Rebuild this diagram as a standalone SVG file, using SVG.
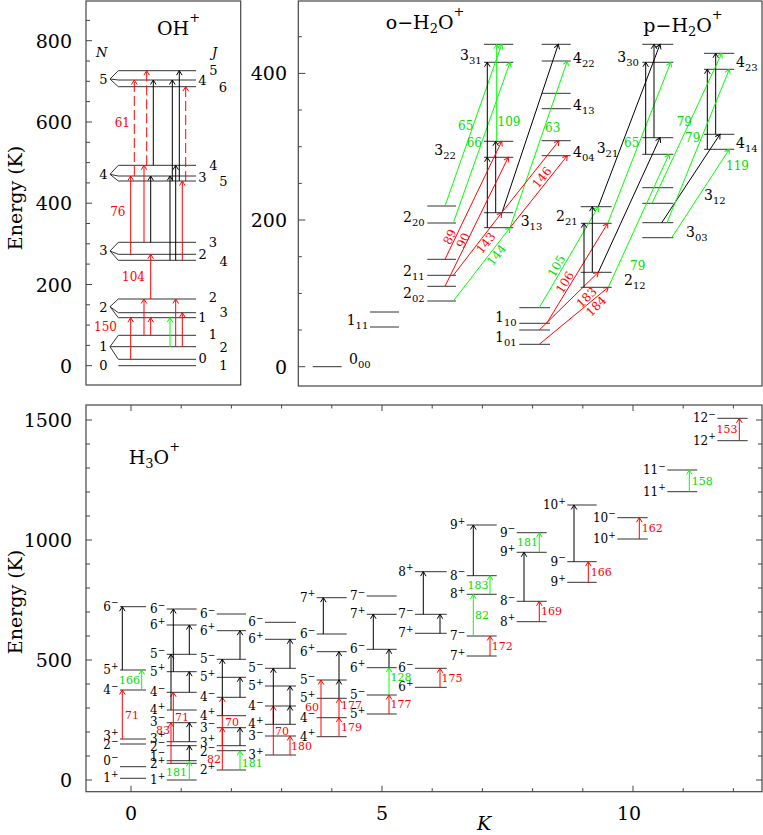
<svg xmlns="http://www.w3.org/2000/svg" width="763" height="835" viewBox="0 0 763 835">
<defs>
<style>
text{font-family:"DejaVu Serif","Liberation Serif",serif;fill:#000}
.ax{font-size:19px}
.ti{font-size:19px}
.lab{font-size:13px}
.h2{font-size:14px}
.h3{font-size:12px}
.tl{font-size:12px}
.t3{font-size:11px}
.red{fill:#f00}
.grn{fill:#0d0}
.it{font-style:italic}
.fr{fill:none;stroke:#444;stroke-width:1.2}
.tk{stroke:#444;stroke-width:1;fill:none}
.lv{stroke:#333;stroke-width:1;fill:none}
.ak{stroke:#000;stroke-width:1;fill:none;marker-end:url(#mk)}
.ar{stroke:#f00;stroke-width:1;fill:none;marker-end:url(#mr)}
.ag{stroke:#0f0;stroke-width:1;fill:none;marker-end:url(#mg)}
.dash{stroke-dasharray:10 4}
</style>
<marker id="mk" viewBox="-6 -4 7 8" refX="0" refY="0" markerWidth="7" markerHeight="8" markerUnits="userSpaceOnUse" orient="auto"><path d="M-4.5,-2.8 L0,0 L-4.5,2.8" fill="none" stroke="#000" stroke-width="1"/></marker>
<marker id="mr" viewBox="-6 -4 7 8" refX="0" refY="0" markerWidth="7" markerHeight="8" markerUnits="userSpaceOnUse" orient="auto"><path d="M-4.5,-2.8 L0,0 L-4.5,2.8" fill="none" stroke="#f00" stroke-width="1"/></marker>
<marker id="mg" viewBox="-6 -4 7 8" refX="0" refY="0" markerWidth="7" markerHeight="8" markerUnits="userSpaceOnUse" orient="auto"><path d="M-4.5,-2.8 L0,0 L-4.5,2.8" fill="none" stroke="#0f0" stroke-width="1"/></marker>
</defs>

<!-- ===== OH+ panel ===== -->
<g id="oh-panel">
<rect class="fr" x="86" y="1" width="154.7" height="384"/>
<path class="tk" d="M86 365.7h6M86 345.4h4M86 325.1h4M86 304.8h4M86 284.5h6M86 264.1h4M86 243.8h4M86 223.5h4M86 203.2h6M86 182.9h4M86 162.6h4M86 142.3h4M86 122h6M86 101.6h4M86 81.3h4M86 61h4M86 40.7h6M86 20.4h4"/>
<text class="ax" x="72" y="47.7" text-anchor="end">800</text>
<text class="ax" x="72" y="129" text-anchor="end">600</text>
<text class="ax" x="72" y="210" text-anchor="end">400</text>
<text class="ax" x="72" y="291.5" text-anchor="end">200</text>
<text class="ax" x="72" y="372.7" text-anchor="end">0</text>
<text class="ax" transform="translate(22,198) rotate(-90)" text-anchor="middle" font-size="20">Energy (K)</text>
<text class="ti" x="157" y="35">OH<tspan font-size="13" dy="-13">+</tspan></text>
<text class="lab it" x="96" y="57" font-size="17">N</text>
<text class="lab it" x="212" y="57" font-size="17">J</text>
</g>

<g id="oh-N5">
<path class="lv" d="M110 79L118.3 70.7H196M110 79L118.3 80H196M110 79L118.3 86.7H196"/>
<text class="lab" x="107.5" y="83.5" text-anchor="end">5</text>
<text class="lab" x="213.3" y="75" text-anchor="middle">5</text>
<text class="lab" x="202.3" y="85" text-anchor="middle">4</text>
<text class="lab" x="223" y="91.7" text-anchor="middle">6</text>
</g>
<g id="oh-N4">
<path class="lv" d="M110 174.3L118.3 165.3H196M110 174.3L118.3 176H196M110 174.3L118.3 181H196"/>
<text class="lab" x="107.5" y="179" text-anchor="end">4</text>
<text class="lab" x="213.3" y="170" text-anchor="middle">4</text>
<text class="lab" x="202.3" y="181.7" text-anchor="middle">3</text>
<text class="lab" x="223.3" y="186" text-anchor="middle">5</text>
</g>
<g id="oh-N3">
<path class="lv" d="M110 251L118.3 242.3H196M110 251L118.3 254.3H196M110 251L118.3 260.3H196"/>
<text class="lab" x="107.5" y="255" text-anchor="end">3</text>
<text class="lab" x="213" y="246.7" text-anchor="middle">3</text>
<text class="lab" x="202.7" y="259" text-anchor="middle">2</text>
<text class="lab" x="223.7" y="266" text-anchor="middle">4</text>
</g>
<g id="oh-N2">
<path class="lv" d="M110 306.7L118.3 299H196M110 306.7L118.3 312.7H196M110 306.7L118.3 317.7H196"/>
<text class="lab" x="107.5" y="311.7" text-anchor="end">2</text>
<text class="lab" x="213" y="302.3" text-anchor="middle">2</text>
<text class="lab" x="223.7" y="316.7" text-anchor="middle">3</text>
<text class="lab" x="202.5" y="322.3" text-anchor="middle">1</text>
</g>
<g id="oh-N1">
<path class="lv" d="M110 346.7L118.3 335.3H196M110 346.7H196M110 346.7L118.3 359.3H196"/>
<text class="lab" x="107.5" y="351" text-anchor="end">1</text>
<text class="lab" x="213" y="339" text-anchor="middle">1</text>
<text class="lab" x="223.7" y="351.7" text-anchor="middle">2</text>
<text class="lab" x="202.7" y="363.3" text-anchor="middle">0</text>
</g>
<g id="oh-N0">
<path class="lv" d="M118.3 365.7H196"/>
<text class="lab" x="107.5" y="370" text-anchor="end">0</text>
<text class="lab" x="223.3" y="370" text-anchor="middle">1</text>
</g>

<g id="oh-transitions">
<path class="ar dash" d="M134.3 176V80"/>
<path class="ar dash" d="M146.7 165.3V70.7"/>
<path class="ak" d="M153.3 165.3V80"/>
<path class="ak" d="M172.3 181V80"/>
<path class="ak" d="M179.3 181V70.7"/>
<path class="ar dash" d="M185.7 181V86.7"/>
<path class="ar" d="M130.7 254.3V176"/>
<path class="ar" d="M144 242.3V165.3"/>
<path class="ak" d="M150.7 242.3V176"/>
<path class="ak" d="M170 260.3V176"/>
<path class="ak" d="M175.7 260.3V165.3"/>
<path class="ar" d="M182.3 260.3V181"/>
<path class="ar" d="M150.7 299V254.3"/>
<path class="ar" d="M130.7 359.3V317.7"/>
<path class="ar" d="M144 335.3V299"/>
<path class="ar" d="M150.7 335.3V317.7"/>
<path class="ag" d="M170 346.7V317.7"/>
<path class="ar" d="M175.7 346.7V299"/>
<path class="ar" d="M182.3 346.7V312.7"/>
<text class="tl red" x="130" y="126.5" text-anchor="end">61</text>
<text class="tl red" x="125.5" y="216" text-anchor="end">76</text>
<text class="tl red" x="145" y="281" text-anchor="end">104</text>
<text class="tl red" x="117" y="331" text-anchor="end">150</text>
</g>

<!-- ===== H2O+ panel ===== -->
<g id="h2o-panel">
<rect class="fr" x="298.3" y="1" width="463.7" height="385"/>
<path class="tk" d="M298.3 366.7h7M298.3 330h3.5M298.3 293.4h3.5M298.3 256.7h3.5M298.3 220h7M298.3 183.4h3.5M298.3 146.7h3.5M298.3 110h3.5M298.3 73.4h7M298.3 36.7h3.5"/>
<text class="ax" x="287" y="80.4" text-anchor="end">400</text>
<text class="ax" x="287" y="227" text-anchor="end">200</text>
<text class="ax" x="287" y="373.7" text-anchor="end">0</text>
<text class="ti" x="385.7" y="28.5">o−H<tspan font-size="13" dy="4">2</tspan><tspan dy="-4">O</tspan><tspan font-size="13" dy="-13">+</tspan></text>
<text class="ti" x="643.3" y="32">p−H<tspan font-size="13" dy="4">2</tspan><tspan dy="-4">O</tspan><tspan font-size="13" dy="-13">+</tspan></text>
</g>

<g id="h2o-000"><path class="lv" d="M312.7 366.7H341.7"/><text class="h2" x="349" y="363.5">0<tspan font-size="10" dy="4">00</tspan></text></g>
<g id="h2o-111"><path class="lv" d="M370 312H399M370 327H399"/><text class="h2" x="346.7" y="325">1<tspan font-size="10" dy="4">11</tspan></text></g>
<g id="h2o-220"><path class="lv" d="M427.3 206H456M427.3 223H456"/><text class="h2" x="403" y="221.7">2<tspan font-size="10" dy="4">20</tspan></text></g>
<g id="h2o-211"><path class="lv" d="M427.3 259.3H456M427.3 275.3H456"/><text class="h2" x="403" y="276">2<tspan font-size="10" dy="4">11</tspan></text></g>
<g id="h2o-202"><path class="lv" d="M427.3 286.3H456M427.3 301H456"/><text class="h2" x="403" y="297.5">2<tspan font-size="10" dy="4">02</tspan></text></g>
<g id="h2o-331"><path class="lv" d="M484 44.3H513.3M484 62.3H513.3"/><text class="h2" x="460" y="60">3<tspan font-size="10" dy="4">31</tspan></text></g>
<g id="h2o-322"><path class="lv" d="M484 141.3H513.3M484 157.3H513.3"/><text class="h2" x="434.3" y="155">3<tspan font-size="10" dy="4">22</tspan></text></g>
<g id="h2o-313"><path class="lv" d="M484 212.7H513.3M484 227.7H513.3"/><text class="h2" x="520.7" y="226">3<tspan font-size="10" dy="4">13</tspan></text></g>
<g id="h2o-422"><path class="lv" d="M541.7 44.3H570.7M541.7 61H570.7"/><text class="h2" x="573" y="63">4<tspan font-size="10" dy="4">22</tspan></text></g>
<g id="h2o-413"><path class="lv" d="M541.7 93.3H570.7M541.7 108.7H570.7"/><text class="h2" x="573" y="110">4<tspan font-size="10" dy="4">13</tspan></text></g>
<g id="h2o-404"><path class="lv" d="M541.7 140.7H570.7M541.7 155.7H570.7"/><text class="h2" x="573" y="156.7">4<tspan font-size="10" dy="4">04</tspan></text></g>
<g id="h2o-110"><path class="lv" d="M519.3 307.7H550M519.3 323.3H550"/><text class="h2" x="495" y="321.7">1<tspan font-size="10" dy="4">10</tspan></text></g>
<g id="h2o-101"><path class="lv" d="M519.3 330H550M519.3 344.3H550"/><text class="h2" x="495" y="341.7">1<tspan font-size="10" dy="4">01</tspan></text></g>
<g id="h2o-221"><path class="lv" d="M580.7 206.7H611.7M580.7 223.3H611.7"/><text class="h2" x="556" y="220.7">2<tspan font-size="10" dy="4">21</tspan></text></g>
<g id="h2o-212"><path class="lv" d="M580.7 272.3H611.7M580.7 287.3H611.7"/><text class="h2" x="624" y="285">2<tspan font-size="10" dy="4">12</tspan></text></g>
<g id="h2o-330"><path class="lv" d="M642.3 44.3H673.3M642.3 62.3H673.3"/><text class="h2" x="617.3" y="61.7">3<tspan font-size="10" dy="4">30</tspan></text></g>
<g id="h2o-321"><path class="lv" d="M642.3 137.7H673.3M642.3 154.3H673.3"/><text class="h2" x="596.7" y="152.7">3<tspan font-size="10" dy="4">21</tspan></text></g>
<g id="h2o-312"><path class="lv" d="M642.3 187.7H673.3M642.3 203.3H673.3"/><text class="h2" x="704" y="200">3<tspan font-size="10" dy="4">12</tspan></text></g>
<g id="h2o-303"><path class="lv" d="M642.3 222.7H673.3M642.3 237.7H673.3"/><text class="h2" x="686" y="236.7">3<tspan font-size="10" dy="4">03</tspan></text></g>
<g id="h2o-423"><path class="lv" d="M704 53.3H734.3M704 69.3H734.3"/><text class="h2" x="736" y="66.7">4<tspan font-size="10" dy="4">23</tspan></text></g>
<g id="h2o-414"><path class="lv" d="M704 134.3H734.3M704 149.3H734.3"/><text class="h2" x="736" y="148">4<tspan font-size="10" dy="4">14</tspan></text></g>

<g id="h2o-transitions">
<path class="ag" d="M445 206L501.7 44.3"/>
<path class="ag" d="M453.3 223L510 62.3"/>
<path class="ag" d="M496.7 141.3V44.3"/>
<path class="ak" d="M487.3 157.3V62.3"/>
<path class="ak" d="M487.3 227.7V157.3"/>
<path class="ak" d="M495.7 212.7V141.3"/>
<path class="ar" d="M445 259.3L501.7 141.3"/>
<path class="ar" d="M445 286.3L508.3 157.3"/>
<path class="ar" d="M453.3 275.3L501.7 212.7"/>
<path class="ag" d="M453.3 301L510 227.7"/>
<path class="ag" d="M510 227.7L567.3 61"/>
<path class="ak" d="M502 212.7L558.3 44.3"/>
<path class="ar" d="M501.7 212.7L559 140.7"/>
<path class="ar" d="M510 227.7L567.3 155.7"/>
<path class="ag" d="M539.3 307.7L598.3 206.7"/>
<path class="ar" d="M546.7 323.3L607.7 223.3"/>
<path class="ar" d="M539.3 330L598.3 272.3"/>
<path class="ar" d="M539.3 344.3L608.3 287.3"/>
<path class="ak" d="M584 287.3V223.3"/>
<path class="ak" d="M592.3 272.3V206.7"/>
<path class="ak" d="M598.3 206.7L660 44.3"/>
<path class="ak" d="M598.3 272.3L660 137.7"/>
<path class="ag" d="M607.7 223.3L670.7 62.3"/>
<path class="ag" d="M608.3 287.3L669 154.3"/>
<path class="ak" d="M645.7 154.3V62.3"/>
<path class="ak" d="M654 137.7V44.3"/>
<path class="ak" d="M707.3 149.3V69.3"/>
<path class="ak" d="M715.7 134.3V53.3"/>
<path class="ak" d="M661.7 222.7L720 134.3"/>
<path class="ag" d="M652 203.3L721.7 53.3"/>
<path class="ag" d="M667 222.7L729.3 69.3"/>
<path class="ag" d="M671.7 237.7L729.3 149.3"/>
<text class="tl grn" x="458" y="130">65</text>
<text class="tl grn" x="466.7" y="146.5">66</text>
<text class="tl grn" x="497.5" y="126">109</text>
<text class="tl grn" x="545" y="132">63</text>
<text class="tl grn" x="676.7" y="126">79</text>
<text class="tl grn" x="685" y="141.7">79</text>
<text class="tl grn" x="624" y="146.7">65</text>
<text class="tl grn" x="726" y="170">119</text>
<text class="tl grn" x="630" y="270">79</text>
<text class="tl red" x="0" y="4" text-anchor="middle" transform="translate(450,237) rotate(-64)">89</text>
<text class="tl red" x="0" y="4" text-anchor="middle" transform="translate(463.3,240.5) rotate(-64)">90</text>
<text class="tl red" x="0" y="4" text-anchor="middle" transform="translate(486,243) rotate(-52)">143</text>
<text class="tl grn" x="0" y="4" text-anchor="middle" transform="translate(496.7,255) rotate(-52)">144</text>
<text class="tl red" x="0" y="4" text-anchor="middle" transform="translate(542,177.5) rotate(-51)">146</text>
<text class="tl grn" x="0" y="4" text-anchor="middle" transform="translate(556.7,266) rotate(-60)">105</text>
<text class="tl red" x="0" y="4" text-anchor="middle" transform="translate(565,282.5) rotate(-58.6)">106</text>
<text class="tl red" x="0" y="4" text-anchor="middle" transform="translate(586.7,297.5) rotate(-45)">183</text>
<text class="tl red" x="0" y="4" text-anchor="middle" transform="translate(596.3,306.3) rotate(-45)">184</text>
</g>

<!-- ===== H3O+ panel ===== -->
<g id="h3o-panel">
<rect class="fr" x="86" y="405" width="676" height="386.7"/>
<path class="tk" d="M86 780h6M86 756h4M86 732h4M86 708h4M86 684h4M86 660h6M86 636h4M86 612h4M86 588h4M86 564h4M86 540h6M86 516h4M86 492h4M86 468h4M86 444h4M86 420h6M762 780h-6M762 756h-4M762 732h-4M762 708h-4M762 684h-4M762 660h-6M762 636h-4M762 612h-4M762 588h-4M762 564h-4M762 540h-6M762 516h-4M762 492h-4M762 468h-4M762 444h-4M762 420h-6M131 791.7v-6M181.2 791.7v-3.5M231.4 791.7v-3.5M281.6 791.7v-3.5M331.8 791.7v-3.5M382 791.7v-6M432.2 791.7v-3.5M482.4 791.7v-3.5M532.6 791.7v-3.5M582.8 791.7v-3.5M633 791.7v-6M683.2 791.7v-3.5M733.4 791.7v-3.5M131 405v6M181.2 405v3.5M231.4 405v3.5M281.6 405v3.5M331.8 405v3.5M382 405v6M432.2 405v3.5M482.4 405v3.5M532.6 405v3.5M582.8 405v3.5M633 405v6M683.2 405v3.5M733.4 405v3.5"/>
<text class="ax" x="72" y="427" text-anchor="end">1500</text>
<text class="ax" x="72" y="547" text-anchor="end">1000</text>
<text class="ax" x="72" y="667" text-anchor="end">500</text>
<text class="ax" x="72" y="787" text-anchor="end">0</text>
<text class="ax" x="131" y="820" text-anchor="middle">0</text>
<text class="ax" x="382" y="820" text-anchor="middle">5</text>
<text class="ax" x="629" y="820" text-anchor="middle">10</text>
<text class="ax it" x="484" y="830" text-anchor="middle" font-size="18">K</text>
<text class="ax" transform="translate(22,602) rotate(-90)" text-anchor="middle" font-size="20">Energy (K)</text>
<text class="ti" x="128.7" y="464">H<tspan font-size="13" dy="4">3</tspan><tspan dy="-4">O</tspan><tspan font-size="13" dy="-13">+</tspan></text>
</g>

<g id="h3o-K0">
<path class="lv" d="M120 606.7H146M120 670H146M120 690H146M120 739H146M120 744H146M120 766.7H146M120 778.3H146"/>
<g class="h3" text-anchor="end">
<text x="118.5" y="610.7">6<tspan font-size="9" dy="-5.5">−</tspan></text>
<text x="118.5" y="674">5<tspan font-size="9" dy="-5.5">+</tspan></text>
<text x="118.5" y="694">4<tspan font-size="9" dy="-5.5">−</tspan></text>
<text x="118.5" y="740">3<tspan font-size="9" dy="-5.5">+</tspan></text>
<text x="118.5" y="749">2<tspan font-size="9" dy="-5.5">−</tspan></text>
<text x="118.5" y="765">0<tspan font-size="9" dy="-5.5">−</tspan></text>
<text x="118.5" y="782.3">1<tspan font-size="9" dy="-5.5">+</tspan></text>
</g>
</g>
<g id="h3o-K1">
<path class="lv" d="M166.7 609H196.7M166.7 625H196.7M166.7 654.3H196.7M166.7 671.7H196.7M166.7 692.3H196.7M166.7 710H196.7M166.7 722.7H196.7M166.7 741.7H196.7M166.7 745.7H196.7M166.7 760.7H196.7M166.7 763.3H196.7M166.7 780H196.7"/>
<g class="h3" text-anchor="end">
<text x="165.2" y="613">6<tspan font-size="9" dy="-5.5">−</tspan></text>
<text x="165.2" y="629">6<tspan font-size="9" dy="-5.5">+</tspan></text>
<text x="165.2" y="658.3">5<tspan font-size="9" dy="-5.5">−</tspan></text>
<text x="165.2" y="675.7">5<tspan font-size="9" dy="-5.5">+</tspan></text>
<text x="165.2" y="696.3">4<tspan font-size="9" dy="-5.5">−</tspan></text>
<text x="165.2" y="714">4<tspan font-size="9" dy="-5.5">+</tspan></text>
<text x="165.2" y="725.7">3<tspan font-size="9" dy="-5.5">−</tspan></text>
<text x="165.2" y="742.7">3<tspan font-size="9" dy="-5.5">+</tspan></text>
<text x="165.2" y="750.7">2<tspan font-size="9" dy="-5.5">−</tspan></text>
<text x="165.2" y="760.7">1<tspan font-size="9" dy="-5.5">−</tspan></text>
<text x="165.2" y="768.3">2<tspan font-size="9" dy="-5.5">+</tspan></text>
<text x="165.2" y="784">1<tspan font-size="9" dy="-5.5">+</tspan></text>
</g>
</g>
<g id="h3o-K2">
<path class="lv" d="M216.7 614H246M216.7 630.7H246M216.7 659.3H246M216.7 677.3H246M216.7 697.3H246M216.7 715.7H246M216.7 727.7H246M216.7 745.7H246M216.7 750.7H246M216.7 770H246"/>
<g class="h3" text-anchor="end">
<text x="215.2" y="618">6<tspan font-size="9" dy="-5.5">−</tspan></text>
<text x="215.2" y="634.7">6<tspan font-size="9" dy="-5.5">+</tspan></text>
<text x="215.2" y="663.3">5<tspan font-size="9" dy="-5.5">−</tspan></text>
<text x="215.2" y="681.3">5<tspan font-size="9" dy="-5.5">+</tspan></text>
<text x="215.2" y="701.3">4<tspan font-size="9" dy="-5.5">−</tspan></text>
<text x="215.2" y="719.7">4<tspan font-size="9" dy="-5.5">+</tspan></text>
<text x="215.2" y="731.7">3<tspan font-size="9" dy="-5.5">−</tspan></text>
<text x="215.2" y="746.7">3<tspan font-size="9" dy="-5.5">+</tspan></text>
<text x="215.2" y="755.7">2<tspan font-size="9" dy="-5.5">−</tspan></text>
<text x="215.2" y="774">2<tspan font-size="9" dy="-5.5">+</tspan></text>
</g>
</g>
<g id="h3o-K3">
<path class="lv" d="M265 622.3H296M265 639.3H296M265 668.3H296M265 686H296M265 706H296M265 724.3H296M265 736H296M265 755H296"/>
<g class="h3" text-anchor="end">
<text x="263.5" y="626.3">6<tspan font-size="9" dy="-5.5">−</tspan></text>
<text x="263.5" y="643.3">6<tspan font-size="9" dy="-5.5">+</tspan></text>
<text x="263.5" y="672.3">5<tspan font-size="9" dy="-5.5">−</tspan></text>
<text x="263.5" y="690">5<tspan font-size="9" dy="-5.5">+</tspan></text>
<text x="263.5" y="710">4<tspan font-size="9" dy="-5.5">−</tspan></text>
<text x="263.5" y="728.3">4<tspan font-size="9" dy="-5.5">+</tspan></text>
<text x="263.5" y="740">3<tspan font-size="9" dy="-5.5">−</tspan></text>
<text x="263.5" y="759">3<tspan font-size="9" dy="-5.5">+</tspan></text>
</g>
</g>
<g id="h3o-K4">
<path class="lv" d="M316.7 597.7H346.7M316.7 634H346.7M316.7 651.7H346.7M316.7 680H346.7M316.7 698.3H346.7M316.7 717.7H346.7M316.7 736.7H346.7"/>
<g class="h3" text-anchor="end">
<text x="315.2" y="601.7">7<tspan font-size="9" dy="-5.5">+</tspan></text>
<text x="315.2" y="638">6<tspan font-size="9" dy="-5.5">−</tspan></text>
<text x="315.2" y="655.7">6<tspan font-size="9" dy="-5.5">+</tspan></text>
<text x="315.2" y="684">5<tspan font-size="9" dy="-5.5">−</tspan></text>
<text x="315.2" y="702.3">5<tspan font-size="9" dy="-5.5">+</tspan></text>
<text x="315.2" y="721.7">4<tspan font-size="9" dy="-5.5">−</tspan></text>
<text x="315.2" y="740.7">4<tspan font-size="9" dy="-5.5">+</tspan></text>
</g>
</g>
<g id="h3o-K5">
<path class="lv" d="M366.7 596H396.7M366.7 614.3H396.7M366.7 649.3H396.7M366.7 667.7H396.7M366.7 695H396.7M366.7 714H396.7"/>
<g class="h3" text-anchor="end">
<text x="365.2" y="600">7<tspan font-size="9" dy="-5.5">−</tspan></text>
<text x="365.2" y="618.3">7<tspan font-size="9" dy="-5.5">+</tspan></text>
<text x="365.2" y="653.3">6<tspan font-size="9" dy="-5.5">−</tspan></text>
<text x="365.2" y="671.7">6<tspan font-size="9" dy="-5.5">+</tspan></text>
<text x="365.2" y="699">5<tspan font-size="9" dy="-5.5">−</tspan></text>
<text x="365.2" y="718">5<tspan font-size="9" dy="-5.5">+</tspan></text>
</g>
</g>
<g id="h3o-K6">
<path class="lv" d="M415 571.7H446.7M415 614.3H446.7M415 633.3H446.7M415 668.3H446.7M415 687.3H446.7"/>
<g class="h3" text-anchor="end">
<text x="413.5" y="575.7">8<tspan font-size="9" dy="-5.5">+</tspan></text>
<text x="413.5" y="618.3">7<tspan font-size="9" dy="-5.5">−</tspan></text>
<text x="413.5" y="637.3">7<tspan font-size="9" dy="-5.5">+</tspan></text>
<text x="413.5" y="672.3">6<tspan font-size="9" dy="-5.5">−</tspan></text>
<text x="413.5" y="691.3">6<tspan font-size="9" dy="-5.5">+</tspan></text>
</g>
</g>
<g id="h3o-K7">
<path class="lv" d="M466.7 525H496.7M466.7 575.7H496.7M466.7 594.3H496.7M466.7 636H496.7M466.7 656H496.7"/>
<g class="h3" text-anchor="end">
<text x="465.2" y="529">9<tspan font-size="9" dy="-5.5">+</tspan></text>
<text x="465.2" y="579.7">8<tspan font-size="9" dy="-5.5">−</tspan></text>
<text x="465.2" y="598.3">8<tspan font-size="9" dy="-5.5">+</tspan></text>
<text x="465.2" y="640">7<tspan font-size="9" dy="-5.5">−</tspan></text>
<text x="465.2" y="660">7<tspan font-size="9" dy="-5.5">+</tspan></text>
</g>
</g>
<g id="h3o-K8">
<path class="lv" d="M516.7 532.7H546.7M516.7 552.3H546.7M516.7 601.3H546.7M516.7 621.7H546.7"/>
<g class="h3" text-anchor="end">
<text x="515.2" y="536.7">9<tspan font-size="9" dy="-5.5">−</tspan></text>
<text x="515.2" y="556.3">9<tspan font-size="9" dy="-5.5">+</tspan></text>
<text x="515.2" y="605.3">8<tspan font-size="9" dy="-5.5">−</tspan></text>
<text x="515.2" y="625.7">8<tspan font-size="9" dy="-5.5">+</tspan></text>
</g>
</g>
<g id="h3o-K9">
<path class="lv" d="M567.3 505H596.7M567.3 561.7H596.7M567.3 582.3H596.7"/>
<g class="h3" text-anchor="end">
<text x="565.8" y="509">10<tspan font-size="9" dy="-5.5">+</tspan></text>
<text x="565.8" y="565.7">9<tspan font-size="9" dy="-5.5">−</tspan></text>
<text x="565.8" y="586.3">9<tspan font-size="9" dy="-5.5">+</tspan></text>
</g>
</g>
<g id="h3o-K10">
<path class="lv" d="M617.3 517.7H647.7M617.3 539H647.7"/>
<g class="h3" text-anchor="end">
<text x="615.8" y="521.7">10<tspan font-size="9" dy="-5.5">−</tspan></text>
<text x="615.8" y="543">10<tspan font-size="9" dy="-5.5">+</tspan></text>
</g>
</g>
<g id="h3o-K11">
<path class="lv" d="M667.3 470H697.3M667.3 491.7H697.3"/>
<g class="h3" text-anchor="end">
<text x="665.8" y="474">11<tspan font-size="9" dy="-5.5">−</tspan></text>
<text x="665.8" y="495.7">11<tspan font-size="9" dy="-5.5">+</tspan></text>
</g>
</g>
<g id="h3o-K12">
<path class="lv" d="M717.3 418.3H747.7M717.3 440.7H747.7"/>
<g class="h3" text-anchor="end">
<text x="715.8" y="422.3">12<tspan font-size="9" dy="-5.5">−</tspan></text>
<text x="715.8" y="444.7">12<tspan font-size="9" dy="-5.5">+</tspan></text>
</g>
</g>

<g id="h3o-transitions">
<path class="ak" d="M122.3 670V606.7"/>
<path class="ar" d="M122.3 739V690"/>
<path class="ag" d="M141.7 690V670"/>
<path class="ar" d="M171 763.3V722.7"/>
<path class="ar" d="M173.3 741.7V692.3"/>
<path class="ak" d="M171 710V654.3"/>
<path class="ak" d="M173.3 671.7V609"/>
<path class="ag" d="M189.3 780V761.7"/>
<path class="ak" d="M189.3 760.7V745.7"/>
<path class="ak" d="M189.3 741.7V722.7"/>
<path class="ak" d="M189.3 692.3V671.7"/>
<path class="ak" d="M189.3 654.3V625"/>
<path class="ar" d="M222.3 770V727.7"/>
<path class="ar" d="M222.3 745.7V697.3"/>
<path class="ak" d="M222.3 715.7V659.3"/>
<path class="ak" d="M240 659.3V630.7"/>
<path class="ak" d="M240 697.3V677.3"/>
<path class="ak" d="M240 745.7V727.7"/>
<path class="ag" d="M240 770V750.7"/>
<path class="ar" d="M273.3 755V706"/>
<path class="ak" d="M273.3 724.3V668.3"/>
<path class="ar" d="M290 755V736"/>
<path class="ak" d="M290 724.3V706"/>
<path class="ak" d="M290 706V686"/>
<path class="ak" d="M290 668.3V639.3"/>
<path class="ar" d="M321 736.7V680"/>
<path class="ak" d="M323.3 634V597.7"/>
<path class="ak" d="M339 680V651.7"/>
<path class="ak" d="M339 698.3V680"/>
<path class="ar" d="M339 717.7V698.3"/>
<path class="ar" d="M339 736.7V717.7"/>
<path class="ak" d="M373.3 649.3V614.3"/>
<path class="ak" d="M389 667.7V649.3"/>
<path class="ag" d="M389 695V667.7"/>
<path class="ar" d="M389 714V695"/>
<path class="ak" d="M423.3 614.3V571.7"/>
<path class="ak" d="M440 633.3V614.3"/>
<path class="ar" d="M440 687.3V668.3"/>
<path class="ak" d="M473.3 575.7V525"/>
<path class="ag" d="M473.3 636V594.3"/>
<path class="ag" d="M490 594.3V575.7"/>
<path class="ar" d="M490 656V636"/>
<path class="ak" d="M524 601.3V552.3"/>
<path class="ag" d="M539.3 552.3V532.7"/>
<path class="ar" d="M539.3 621.7V601.3"/>
<path class="ak" d="M574 561.7V505"/>
<path class="ar" d="M588.3 582.3V561.7"/>
<path class="ar" d="M639.3 539V517.7"/>
<path class="ag" d="M689.3 491.7V470"/>
<path class="ar" d="M739.3 440.7V418.3"/>
<g class="t3">
<text class="red" x="125" y="719">71</text>
<text class="grn" x="140" y="684" text-anchor="end">166</text>
<text class="red" x="170" y="734" text-anchor="end">83</text>
<text class="red" x="175" y="720.7">71</text>
<text class="grn" x="187" y="775.7" text-anchor="end">181</text>
<text class="red" x="221" y="763.3" text-anchor="end">82</text>
<text class="red" x="225" y="725.7">70</text>
<text class="grn" x="241.7" y="767.3">181</text>
<text class="red" x="275" y="734.7">70</text>
<text class="red" x="291" y="749.7">180</text>
<text class="red" x="319" y="710.7" text-anchor="end">60</text>
<text class="red" x="341" y="709">177</text>
<text class="red" x="341" y="730.7">179</text>
<text class="grn" x="390.5" y="680.7">128</text>
<text class="red" x="390.5" y="708.3">177</text>
<text class="red" x="441.5" y="681.7">175</text>
<text class="grn" x="475" y="619">82</text>
<text class="grn" x="488.5" y="589" text-anchor="end">183</text>
<text class="red" x="491.7" y="650">172</text>
<text class="grn" x="538" y="545.7" text-anchor="end">181</text>
<text class="red" x="541" y="615">169</text>
<text class="red" x="590.7" y="575.7">166</text>
<text class="red" x="641.7" y="531.7">162</text>
<text class="grn" x="691.7" y="484.7">158</text>
<text class="red" x="737.5" y="433" text-anchor="end">153</text>
</g>
</g>
</svg>
